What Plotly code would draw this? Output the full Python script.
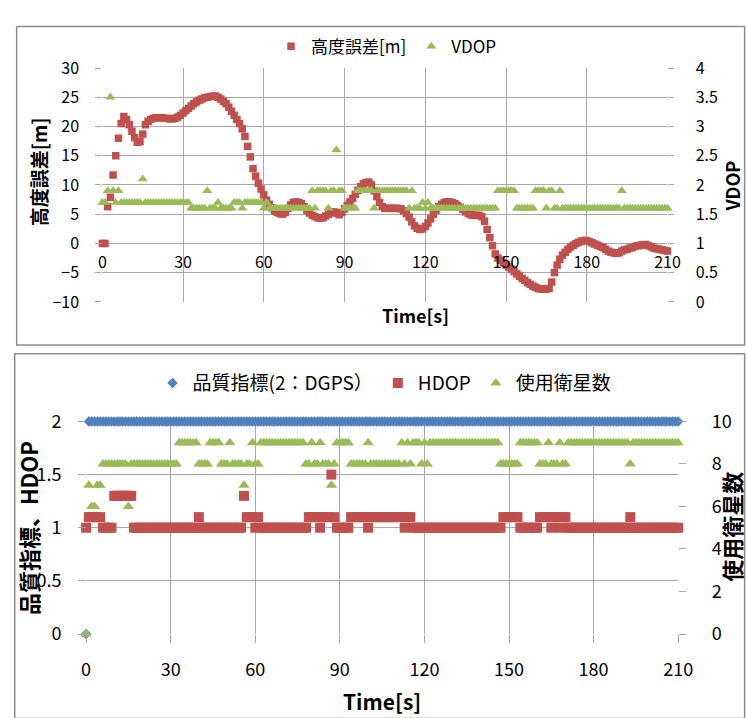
import plotly.graph_objects as go

# ---------------------------------------------------------------- data
time_s = list(range(0, 211))

height_error_m = [
    0.0, 0.0, 6.3, 7.9, 11.7, 15.0, 18.0, 20.5, 21.7, 21.2,
    20.3, 19.2, 18.1, 17.3, 17.4, 18.7, 20.3, 20.9, 21.2, 21.4,
    21.5, 21.5, 21.5, 21.4, 21.4, 21.3, 21.3, 21.4, 21.6, 21.9,
    22.3, 22.7, 23.1, 23.5, 23.9, 24.2, 24.5, 24.7, 24.9, 25.0,
    25.1, 25.2, 25.2, 25.0, 24.7, 24.3, 23.9, 23.3, 22.6, 21.9,
    21.2, 20.5, 19.6, 18.3, 16.6, 14.8, 12.8, 11.5, 10.3, 9.3,
    8.3, 7.4, 6.7, 6.1, 5.6, 5.3, 5.1, 5.0, 5.3, 6.0,
    6.6, 7.0, 7.1, 7.0, 6.8, 6.3, 5.7, 5.2, 4.8, 4.6,
    4.4, 4.3, 4.4, 4.7, 5.0, 5.3, 5.4, 5.2, 4.9, 5.3,
    5.9, 6.5, 7.1, 7.7, 8.4, 9.1, 9.7, 10.2, 10.4, 10.5,
    10.0, 9.0, 8.0, 7.0, 6.3, 6.0, 6.0, 6.0, 6.0, 6.0,
    6.0, 5.9, 5.6, 5.1, 4.5, 3.7, 3.0, 2.6, 2.4, 2.5,
    2.9, 3.5, 4.2, 5.0, 5.7, 6.3, 6.7, 7.0, 7.1, 7.1,
    7.0, 6.8, 6.5, 6.2, 5.8, 5.4, 5.1, 4.9, 4.8, 4.8,
    4.8, 4.6, 3.8, 2.4, 1.0, -0.4, -1.8, -2.5, -2.9, -3.3,
    -3.7, -4.0, -4.4, -4.8, -5.2, -5.6, -6.0, -6.3, -6.7, -7.0,
    -7.3, -7.5, -7.7, -7.8, -7.8, -7.8, -7.7, -6.6, -5.0, -3.7,
    -2.7, -2.0, -1.5, -1.0, -0.6, -0.3, 0.0, 0.2, 0.4, 0.5,
    0.5, 0.3, 0.1, -0.1, -0.3, -0.5, -0.7, -1.0, -1.3, -1.5,
    -1.6, -1.7, -1.6, -1.3, -1.1, -1.0, -0.8, -0.7, -0.5, -0.4,
    -0.3, -0.2, -0.2, -0.4, -0.6, -0.8, -0.9, -1.0, -1.1, -1.2,
    -1.3,
]

vdop = [
    1.7, 1.7, 1.9, 3.5, 1.9, 1.7, 1.9, 1.7, 1.7, 1.7,
    1.7, 1.7, 1.7, 1.7, 1.7, 2.1, 1.7, 1.7, 1.7, 1.7,
    1.7, 1.7, 1.7, 1.7, 1.7, 1.7, 1.7, 1.7, 1.7, 1.7,
    1.7, 1.7, 1.7, 1.6, 1.6, 1.6, 1.6, 1.6, 1.6, 1.9,
    1.6, 1.6, 1.6, 1.7, 1.6, 1.6, 1.6, 1.6, 1.6, 1.7,
    1.7, 1.7, 1.6, 1.7, 1.7, 1.7, 1.7, 1.7, 1.7, 1.7,
    1.6, 1.7, 1.6, 1.6, 1.6, 1.6, 1.6, 1.6, 1.6, 1.6,
    1.6, 1.6, 1.6, 1.6, 1.6, 1.6, 1.6, 1.6, 1.9, 1.6,
    1.9, 1.9, 1.9, 1.9, 1.6, 1.9, 1.9, 2.6, 1.9, 1.9,
    1.6, 1.6, 1.6, 1.6, 1.6, 1.9, 1.9, 1.9, 1.9, 1.9,
    1.9, 1.6, 1.9, 1.9, 1.9, 1.9, 1.9, 1.9, 1.9, 1.9,
    1.9, 1.9, 1.9, 1.9, 1.6, 1.9, 1.6, 1.6, 1.6, 1.7,
    1.6, 1.7, 1.6, 1.6, 1.6, 1.6, 1.6, 1.6, 1.6, 1.6,
    1.6, 1.6, 1.6, 1.6, 1.6, 1.6, 1.6, 1.6, 1.6, 1.6,
    1.6, 1.6, 1.6, 1.6, 1.6, 1.6, 1.6, 1.9, 1.9, 1.9,
    1.9, 1.9, 1.9, 1.9, 1.6, 1.6, 1.6, 1.6, 1.6, 1.6,
    1.6, 1.9, 1.9, 1.9, 1.9, 1.6, 1.9, 1.9, 1.6, 1.6,
    1.9, 1.6, 1.6, 1.6, 1.6, 1.6, 1.6, 1.6, 1.6, 1.6,
    1.6, 1.6, 1.6, 1.6, 1.6, 1.6, 1.6, 1.6, 1.6, 1.6,
    1.6, 1.6, 1.6, 1.9, 1.6, 1.6, 1.6, 1.6, 1.6, 1.6,
    1.6, 1.6, 1.6, 1.6, 1.6, 1.6, 1.6, 1.6, 1.6, 1.6,
    1.6,
]

quality_index = [
    0, 2, 2, 2, 2, 2, 2, 2, 2, 2, 2, 2, 2, 2, 2, 2, 2, 2, 2, 2,
    2, 2, 2, 2, 2, 2, 2, 2, 2, 2, 2, 2, 2, 2, 2, 2, 2, 2, 2, 2,
    2, 2, 2, 2, 2, 2, 2, 2, 2, 2, 2, 2, 2, 2, 2, 2, 2, 2, 2, 2,
    2, 2, 2, 2, 2, 2, 2, 2, 2, 2, 2, 2, 2, 2, 2, 2, 2, 2, 2, 2,
    2, 2, 2, 2, 2, 2, 2, 2, 2, 2, 2, 2, 2, 2, 2, 2, 2, 2, 2, 2,
    2, 2, 2, 2, 2, 2, 2, 2, 2, 2, 2, 2, 2, 2, 2, 2, 2, 2, 2, 2,
    2, 2, 2, 2, 2, 2, 2, 2, 2, 2, 2, 2, 2, 2, 2, 2, 2, 2, 2, 2,
    2, 2, 2, 2, 2, 2, 2, 2, 2, 2, 2, 2, 2, 2, 2, 2, 2, 2, 2, 2,
    2, 2, 2, 2, 2, 2, 2, 2, 2, 2, 2, 2, 2, 2, 2, 2, 2, 2, 2, 2,
    2, 2, 2, 2, 2, 2, 2, 2, 2, 2, 2, 2, 2, 2, 2, 2, 2, 2, 2, 2,
    2, 2, 2, 2, 2, 2, 2, 2, 2, 2, 2,
]

hdop = [
    1.0, 1.1, 1.1, 1.1, 1.1, 1.1, 1.0, 1.0, 1.0, 1.0,
    1.3, 1.3, 1.3, 1.3, 1.3, 1.3, 1.3, 1.0, 1.0, 1.0,
    1.0, 1.0, 1.0, 1.0, 1.0, 1.0, 1.0, 1.0, 1.0, 1.0,
    1.0, 1.0, 1.0, 1.0, 1.0, 1.0, 1.0, 1.0, 1.0, 1.0,
    1.1, 1.0, 1.0, 1.0, 1.0, 1.0, 1.0, 1.0, 1.0, 1.0,
    1.0, 1.0, 1.0, 1.0, 1.0, 1.0, 1.3, 1.1, 1.1, 1.1,
    1.0, 1.1, 1.0, 1.0, 1.0, 1.0, 1.0, 1.0, 1.0, 1.0,
    1.0, 1.0, 1.0, 1.0, 1.0, 1.0, 1.0, 1.0, 1.0, 1.1,
    1.1, 1.1, 1.1, 1.0, 1.1, 1.1, 1.1, 1.5, 1.1, 1.0,
    1.0, 1.0, 1.0, 1.0, 1.1, 1.1, 1.1, 1.1, 1.1, 1.1,
    1.0, 1.1, 1.1, 1.1, 1.1, 1.1, 1.1, 1.1, 1.1, 1.1,
    1.1, 1.1, 1.1, 1.0, 1.1, 1.1, 1.0, 1.0, 1.0, 1.0,
    1.0, 1.0, 1.0, 1.0, 1.0, 1.0, 1.0, 1.0, 1.0, 1.0,
    1.0, 1.0, 1.0, 1.0, 1.0, 1.0, 1.0, 1.0, 1.0, 1.0,
    1.0, 1.0, 1.0, 1.0, 1.0, 1.0, 1.0, 1.0, 1.1, 1.1,
    1.1, 1.1, 1.1, 1.1, 1.0, 1.0, 1.0, 1.0, 1.0, 1.0,
    1.0, 1.1, 1.1, 1.1, 1.1, 1.0, 1.1, 1.1, 1.0, 1.1,
    1.1, 1.0, 1.0, 1.0, 1.0, 1.0, 1.0, 1.0, 1.0, 1.0,
    1.0, 1.0, 1.0, 1.0, 1.0, 1.0, 1.0, 1.0, 1.0, 1.0,
    1.0, 1.0, 1.0, 1.1, 1.0, 1.0, 1.0, 1.0, 1.0, 1.0,
    1.0, 1.0, 1.0, 1.0, 1.0, 1.0, 1.0, 1.0, 1.0, 1.0,
    1.0,
]

satellites_used = [
    0, 7, 6, 6, 7, 7, 8, 8, 8, 8,
    8, 8, 8, 8, 8, 6, 8, 8, 8, 8,
    8, 8, 8, 8, 8, 8, 8, 8, 8, 8,
    8, 8, 8, 9, 9, 9, 9, 9, 9, 9,
    8, 8, 8, 8, 9, 9, 9, 9, 8, 8,
    8, 9, 8, 8, 8, 8, 7, 8, 8, 9,
    8, 8, 9, 9, 9, 9, 9, 9, 9, 9,
    9, 9, 9, 9, 9, 9, 9, 9, 8, 8,
    9, 8, 8, 9, 8, 8, 8, 7, 8, 9,
    9, 9, 9, 9, 8, 8, 8, 8, 8, 8,
    9, 8, 8, 8, 8, 8, 8, 8, 8, 8,
    8, 8, 9, 8, 9, 8, 9, 9, 9, 8,
    9, 8, 9, 9, 9, 9, 9, 9, 9, 9,
    9, 9, 9, 9, 9, 9, 9, 9, 9, 9,
    9, 9, 9, 9, 9, 9, 9, 8, 8, 8,
    8, 8, 8, 8, 9, 9, 9, 9, 9, 9,
    9, 8, 8, 8, 9, 8, 8, 8, 9, 8,
    8, 9, 9, 9, 9, 9, 9, 9, 9, 9,
    9, 9, 9, 9, 9, 9, 9, 9, 9, 9,
    9, 9, 9, 8, 9, 9, 9, 9, 9, 9,
    9, 9, 9, 9, 9, 9, 9, 9, 9, 9,
    9,
]

time_ticks = [0, 30, 60, 90, 120, 150, 180, 210]

# ---------------------------------------------------------------- styling
W, H = 747, 718
FONT = "Noto Sans CJK JP"
RED = "#C0504D"
GREEN = "#9BBB59"
BLUE = "#4F81BD"
GRID = "#A8A8A8"
FRAME = "#8C8C8C"
TXT = "#000000"


def fx(px):
    return px / W


def fy(px):
    return 1 - px / H


top_x = [fx(100), fx(680.7)]
top_y = [fy(297.7), fy(55)]
bot_x = [fx(83.3), fx(691.7)]
bot_y = [fy(642.3), fy(421.7)]

# the time axis of the upper panel crosses the height axis at 0
top_zero = top_y[0] + (0 - (-10)) / 40 * (top_y[1] - top_y[0])

fig = go.Figure()

fig.add_trace(go.Scatter(
    x=time_s, y=height_error_m, name="高度誤差[m]", mode="markers",
    marker=dict(symbol="square", size=7.5, color=RED, line=dict(width=0)),
    xaxis="x", yaxis="y", legend="legend", cliponaxis=False,
))
fig.add_trace(go.Scatter(
    x=time_s, y=vdop, name="VDOP", mode="markers",
    marker=dict(symbol="triangle-up", size=9, color=GREEN, line=dict(width=0)),
    xaxis="x", yaxis="y2", legend="legend", cliponaxis=False,
))
fig.add_trace(go.Scatter(
    x=time_s, y=quality_index, name="品質指標(2：DGPS）", mode="markers",
    marker=dict(symbol="diamond", size=8, color=BLUE, line=dict(width=0)),
    xaxis="x2", yaxis="y3", legend="legend2", cliponaxis=False,
))
fig.add_trace(go.Scatter(
    x=time_s, y=hdop, name="HDOP", mode="markers",
    marker=dict(symbol="square", size=10, color=RED, line=dict(width=0)),
    xaxis="x2", yaxis="y3", legend="legend2", cliponaxis=False,
))
fig.add_trace(go.Scatter(
    x=time_s, y=satellites_used, name="使用衛星数", mode="markers",
    marker=dict(symbol="triangle-up", size=10, color=GREEN, line=dict(width=0)),
    xaxis="x2", yaxis="y4", legend="legend2", cliponaxis=False,
))

common = dict(showgrid=True, gridcolor=GRID, gridwidth=1, zeroline=False,
              showline=False, tickcolor=GRID, tickwidth=1)

fig.update_layout(
    width=W, height=H,
    margin=dict(l=0, r=0, t=0, b=0),
    paper_bgcolor="white", plot_bgcolor="white",
    font=dict(family=FONT, color=TXT),
    xaxis=dict(domain=top_x, range=[0, 210], tickvals=time_ticks,
               anchor="free", position=top_zero, ticks="",
               tickfont=dict(size=16, color=TXT), ticklabelstandoff=8,
               **common),
    yaxis=dict(domain=top_y, range=[-10, 30], tick0=0, dtick=5,
               anchor="x", ticks="outside", ticklen=6,
               tickfont=dict(size=16, color=TXT), ticklabelstandoff=13,
               **common),
    yaxis2=dict(range=[0, 4], tick0=0, dtick=0.5, overlaying="y",
                side="right", anchor="x", ticks="outside", ticklen=6,
                tickfont=dict(size=16, color=TXT), ticklabelstandoff=18,
                showgrid=False, zeroline=False, showline=False,
                tickcolor=GRID),
    xaxis2=dict(domain=bot_x, range=[0, 210], tickvals=time_ticks,
                anchor="y3", ticks="outside", ticklen=8,
                tickfont=dict(size=18, color=TXT), ticklabelstandoff=11,
                **common),
    yaxis3=dict(domain=bot_y, range=[0, 2], tick0=0, dtick=0.5,
                anchor="x2", ticks="outside", ticklen=7,
                tickfont=dict(size=18, color=TXT), ticklabelstandoff=13,
                **common),
    yaxis4=dict(range=[0, 10], tick0=0, dtick=2, overlaying="y3",
                side="right", anchor="x2", ticks="outside", ticklen=7,
                tickfont=dict(size=18, color=TXT), ticklabelstandoff=22,
                showgrid=False, zeroline=False, showline=False,
                tickcolor=GRID),
    legend=dict(orientation="h", x=fx(392), xanchor="center",
                y=fy(33), yanchor="middle", bgcolor="rgba(0,0,0,0)",
                font=dict(size=17, family=FONT, color=TXT)),
    legend2=dict(orientation="h", x=fx(390), xanchor="center",
                 y=fy(382), yanchor="middle", bgcolor="rgba(0,0,0,0)",
                 font=dict(size=19, family=FONT, color=TXT)),
    showlegend=True,
)

# chart-area frames
fig.add_shape(type="rect", xref="paper", yref="paper",
              x0=fx(12), x1=fx(760), y0=fy(342.5), y1=fy(12),
              line=dict(color=FRAME, width=1.5), layer="below")
fig.add_shape(type="rect", xref="paper", yref="paper",
              x0=fx(10), x1=fx(760), y0=fy(730), y1=fy(351.5),
              line=dict(color=FRAME, width=1.5), layer="below")

# axis titles inside the page: text, x px, y px, size, angle, y shift
titles = [
    ("高度誤差[m]", 34, 163, 19, -90, 0),
    ("Time[s]", 422, 311, 18, 0, 0),
    ("品質指標、HDOP", 23, 532, 22, -90, 0),
    ("Time[s]", 387, 700, 21, 0, -11),
]
for text, x, y, size, angle, dy in titles:
    fig.add_annotation(text=f"<b>{text}</b>", xref="paper", yref="paper",
                       x=fx(x), y=fy(y), xanchor="center", yanchor="middle",
                       yshift=dy, showarrow=False, textangle=angle,
                       font=dict(size=size, family=FONT, color=TXT))

# secondary-axis titles sit hard against the right edge of the page; they
# are carried by transparent boxes so they can be placed right at the edge
right_titles = [
    ("VDOP", 750, 177, 18),
    ("使用衛星数", 750, 531, 22),
]
for text, xc, yc, size in right_titles:
    fig.add_shape(type="rect", xref="paper", yref="paper",
                  x0=fx(xc - 12), x1=fx(xc + 12),
                  y0=fy(yc + 70), y1=fy(yc - 70),
                  line=dict(width=0), fillcolor="rgba(0,0,0,0)",
                  label=dict(text=f"<b>{text}</b>", textangle=-90,
                             textposition="middle center",
                             font=dict(size=size, family=FONT, color=TXT)))

fig.write_html("out.html")
